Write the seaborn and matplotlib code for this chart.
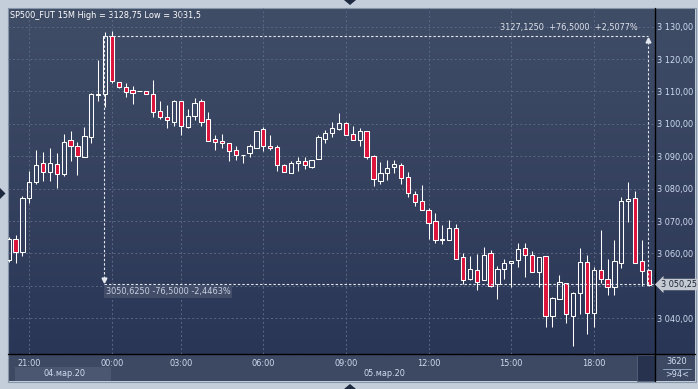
import numpy as np
import pandas as pd
import matplotlib
matplotlib.use("Agg")
import matplotlib.pyplot as plt
from matplotlib.colors import LinearSegmentedColormap
from matplotlib.patches import Rectangle, Polygon
import seaborn as sns

# 15-минутные свечи SP500_FUT
opens = [3058.0, 3064.5, 3060.6, 3077.0, 3082.2, 3087.8, 3085.1, 3087.5, 3084.6, 3095.0,
         3093.2, 3089.9, 3096.0, 3109.0, 3109.2, 3127.1, 3112.9, 3111.3, 3110.5, 3110.2,
         3110.2, 3109.2, 3104.0, 3102.1, 3100.7, 3107.1, 3099.1, 3102.5, 3107.2, 3101.4,
         3095.2, 3094.7, 3094.0, 3092.0, 3090.3, 3090.9, 3092.7, 3098.3, 3093.1, 3092.8,
         3087.2, 3084.9, 3087.8, 3088.5, 3086.8, 3089.1, 3095.3, 3097.1, 3098.5, 3100.2,
         3096.9, 3095.0, 3097.8, 3090.1, 3082.5, 3084.8, 3086.6, 3087.2, 3083.5, 3078.3,
         3076.2, 3073.3, 3069.9, 3064.1, 3064.1, 3067.9, 3058.8, 3052.1, 3054.8, 3051.7,
         3060.1, 3050.6, 3055.1, 3057.0, 3057.9, 3061.6, 3059.4, 3054.2, 3059.1, 3040.8,
         3046.0, 3050.8, 3040.8, 3047.7, 3057.3, 3041.7, 3054.9, 3052.1, 3049.8, 3057.2,
         3076.1, 3077.0, 3057.7, 3054.9]
highs = [3065.0, 3065.7, 3077.7, 3085.5, 3091.9, 3091.3, 3092.6, 3090.9, 3096.8, 3097.7,
         3094.4, 3099.1, 3109.6, 3119.7, 3128.5, 3128.75, 3113.0, 3112.5, 3111.7, 3110.2,
         3110.2, 3113.5, 3107.1, 3105.8, 3107.4, 3107.2, 3104.5, 3107.9, 3107.6, 3103.6,
         3096.6, 3096.9, 3094.2, 3093.2, 3090.3, 3093.8, 3097.9, 3098.9, 3096.6, 3093.4,
         3087.6, 3088.6, 3089.8, 3089.7, 3089.0, 3096.6, 3098.1, 3100.6, 3103.5, 3100.7,
         3099.4, 3098.8, 3097.8, 3090.3, 3088.3, 3088.9, 3088.9, 3087.8, 3085.2, 3079.4,
         3081.0, 3074.0, 3072.4, 3068.8, 3070.3, 3069.0, 3060.1, 3059.3, 3059.8, 3062.0,
         3061.1, 3056.2, 3058.3, 3057.6, 3063.2, 3063.2, 3060.8, 3058.8, 3059.1, 3046.7,
         3053.3, 3050.8, 3048.0, 3061.6, 3059.5, 3055.7, 3067.3, 3058.3, 3064.2, 3077.5,
         3082.0, 3079.3, 3064.2, 3055.0]
lows = [3057.5, 3057.2, 3059.3, 3075.5, 3081.4, 3082.4, 3082.5, 3080.1, 3084.0, 3088.6,
        3084.2, 3089.9, 3094.0, 3107.1, 3105.1, 3112.7, 3111.2, 3108.4, 3106.0, 3110.2,
        3109.2, 3102.2, 3101.4, 3098.8, 3099.4, 3096.6, 3098.8, 3101.2, 3099.4, 3094.8,
        3092.0, 3092.5, 3088.6, 3088.9, 3087.8, 3089.7, 3092.7, 3091.7, 3092.0, 3085.6,
        3085.1, 3084.9, 3085.6, 3086.0, 3086.5, 3089.1, 3094.0, 3096.0, 3098.1, 3096.5,
        3095.0, 3093.2, 3089.3, 3080.8, 3081.4, 3082.7, 3084.9, 3081.4, 3077.3, 3074.7,
        3073.3, 3064.6, 3063.3, 3062.8, 3064.1, 3058.4, 3050.5, 3051.8, 3048.7, 3051.7,
        3049.8, 3046.0, 3052.2, 3049.6, 3055.9, 3052.8, 3054.2, 3049.6, 3037.2, 3037.4,
        3046.0, 3038.6, 3031.5, 3041.2, 3035.2, 3037.4, 3051.0, 3047.2, 3047.2, 3055.6,
        3069.8, 3057.2, 3050.0, 3050.0]
closes = [3064.4, 3060.4, 3077.0, 3082.0, 3087.2, 3085.1, 3087.8, 3084.4, 3094.3, 3093.1,
          3090.0, 3096.3, 3109.2, 3109.3, 3127.1, 3113.3, 3111.3, 3109.9, 3109.6, 3110.2,
          3109.2, 3103.8, 3102.2, 3101.1, 3107.1, 3099.4, 3102.5, 3106.4, 3100.7, 3094.8,
          3094.3, 3094.0, 3091.7, 3090.3, 3090.3, 3093.1, 3097.9, 3093.2, 3092.5, 3087.2,
          3085.1, 3088.0, 3088.5, 3087.2, 3088.8, 3095.9, 3097.1, 3098.6, 3100.2, 3096.5,
          3095.0, 3097.8, 3089.9, 3082.9, 3084.8, 3086.3, 3087.5, 3083.2, 3078.6, 3075.8,
          3073.3, 3069.5, 3064.1, 3064.4, 3067.8, 3058.4, 3051.7, 3055.1, 3051.3, 3059.4,
          3050.1, 3055.1, 3057.0, 3057.6, 3061.3, 3059.4, 3054.2, 3058.8, 3040.6, 3046.2,
          3051.1, 3041.2, 3047.7, 3057.3, 3041.5, 3054.9, 3052.0, 3049.8, 3057.7, 3076.2,
          3076.7, 3057.2, 3054.5, 3050.25]

time_ticks = [3, 15, 25, 37, 49, 61, 73, 85]
time_labels = ["21:00", "00:00", "03:00", "06:00", "09:00", "12:00", "15:00", "18:00"]
price_levels = [3040, 3050, 3060, 3070, 3080, 3090, 3100, 3110, 3120, 3130]
price_labels = ["3 040,00", "", "3 060,00", "3 070,00", "3 080,00", "3 090,00",
                "3 100,00", "3 110,00", "3 120,00", "3 130,00"]

# измерение (линейка)
meas_top = 3127.125
meas_bottom = 3050.625
meas_x0, meas_x1 = 13.9, 92.9
last_price = 3050.25

df = pd.DataFrame({"open": opens, "high": highs, "low": lows, "close": closes})
df["bar"] = np.arange(len(df))
df["up"] = df["close"] >= df["open"]
df["top"] = df[["open", "close"]].max(axis=1)
df["bottom"] = df[["open", "close"]].min(axis=1)

sns.set_theme(style="dark")
plt.rcParams["font.family"] = ["DejaVu Sans"]

W, H = 698, 389
fig = plt.figure(figsize=(W / 100, H / 100), dpi=100)
fig.patch.set_facecolor("#c3ceda")

# фон в пиксельных координатах
bg = fig.add_axes([0, 0, 1, 1], zorder=0)
bg.axis("off")
cmap = LinearSegmentedColormap.from_list("bg", ["#404d67", "#2a3656"])
bg.imshow(np.linspace(0, 1, 256).reshape(-1, 1), cmap=cmap, aspect="auto",
          extent=[8, 695, 354, 8], zorder=0)
bg.add_patch(Rectangle((8, 354), 687, 27, fc="#3d4962", ec="none", zorder=1))
bg.add_patch(Rectangle((15, 367), 96, 14, fc="#4b5771", ec="none", zorder=1))
bg.add_patch(Rectangle((637, 355), 18, 26, fc="#27334e", ec="#56627a", lw=0.6, zorder=1))
bg.add_patch(Rectangle((7.5, 7.5), 688, 374, fill=False, ec="#8795a8", lw=0.8, zorder=2))
bg.plot([655, 655], [8, 381], color="black", lw=1.0, zorder=3)
bg.plot([8, 695], [354, 354], color="black", lw=1.0, zorder=3)
bg.plot([663, 691], [368.5, 368.5], color="#8ea3c0", lw=0.7, zorder=3)
for pts in ([(0, 188), (5.5, 193.5), (0, 199)],
            [(344, 0), (356, 0), (350, 5)],
            [(344, 389), (356, 389), (350, 384)]):
    bg.add_patch(Polygon(pts, closed=True, fc="#1d2a3f", ec="none", zorder=3))

txt = "#cfdcf0"
bg.text(10, 15, "SP500_FUT 15M High = 3128,75 Low = 3031,5", color="white",
        fontsize=5.9, va="center", ha="left", zorder=4)
bg.text(64, 373.5, "04.мар.20", color=txt, fontsize=5.9, ha="center", va="center", zorder=4)
bg.text(384, 373.5, "05.мар.20", color=txt, fontsize=5.9, ha="center", va="center", zorder=4)
bg.text(677, 361.5, "3620", color=txt, fontsize=5.9, ha="center", va="center", zorder=4)
bg.text(677, 374.5, ">94<", color=txt, fontsize=5.9, ha="center", va="center", zorder=4)
bg.text(661, 284.5, "3 050,25", color="#1b2436", fontsize=5.9, ha="left", va="center",
        zorder=5, bbox=dict(boxstyle="larrow,pad=0.15", fc="#c5c9d1", ec="none"))
bg.set_xlim(0, W)
bg.set_ylim(H, 0)

# основной график
ax = fig.add_axes([8 / W, 1 - 354 / H, 647 / W, 346 / H], zorder=1)
ax.set_facecolor("none")
ax.set_xlim(-0.094, 93.89)
ax.set_ylim(3028.98, 3135.77)
for s in ax.spines.values():
    s.set_visible(False)

ax.set_xticks(time_ticks)
ax.set_xticklabels(time_labels)
ax.set_yticks(price_levels)
ax.set_yticklabels(price_labels)
ax.yaxis.tick_right()
ax.tick_params(axis="both", length=0, labelsize=5.9, colors=txt)
ax.tick_params(axis="y", pad=1.6)
ax.tick_params(axis="x", pad=3.4)
ax.grid(True, color="#5b6883", linestyle=(0, (2, 2.5)), linewidth=0.7)
ax.set_axisbelow(True)

# фитили
ax.vlines(df["bar"], df["top"], df["high"], color="white", lw=0.75, zorder=3)
ax.vlines(df["bar"], df["low"], df["bottom"], color="white", lw=0.75, zorder=3)
# тела
up = df[df["up"]]
down = df[~df["up"]]
ax.bar(up["bar"], up["close"] - up["open"], bottom=up["open"], width=0.62,
       facecolor="none", edgecolor="white", linewidth=0.75, zorder=4)
ax.bar(down["bar"], down["open"] - down["close"], bottom=down["close"], width=0.62,
       facecolor="#dc143c", edgecolor="white", linewidth=0.75, zorder=4)

# линейка
mc = "#e3e7ee"
dash = (0, (2.2, 1.8))
ax.plot([meas_x0, meas_x1], [meas_top, meas_top], color=mc, ls=dash, lw=0.8, zorder=5)
ax.plot([meas_x0, 93.89], [meas_bottom, meas_bottom], color=mc, ls=dash, lw=0.8, zorder=5)
ax.plot([meas_x0, meas_x0], [meas_top, meas_bottom + 1.2], color=mc, ls=dash, lw=0.8, zorder=5)
ax.plot([meas_x1, meas_x1], [meas_bottom, meas_top - 1.2], color=mc, ls=dash, lw=0.8, zorder=5)
ax.plot(meas_x0, meas_bottom + 1.3, marker="v", ms=3.5, color=mc, zorder=5)
ax.plot(meas_x1, meas_top - 1.3, marker="^", ms=3.5, color=mc, zorder=5)

ax.text(91.4, 3129.6, "3127,1250  +76,5000  +2,5077%", ha="right", va="center",
        fontsize=5.9, color="#dfe3ea", zorder=6)
ax.text(14.1, 3048.3, "3050,6250 -76,5000 -2,4463%", ha="left", va="center",
        fontsize=5.9, color="#c8d0e0", zorder=6,
        bbox=dict(fc="#46526c", ec="none", alpha=0.85, pad=1.2))

fig.savefig("out.png", dpi=100, facecolor=fig.get_facecolor())
